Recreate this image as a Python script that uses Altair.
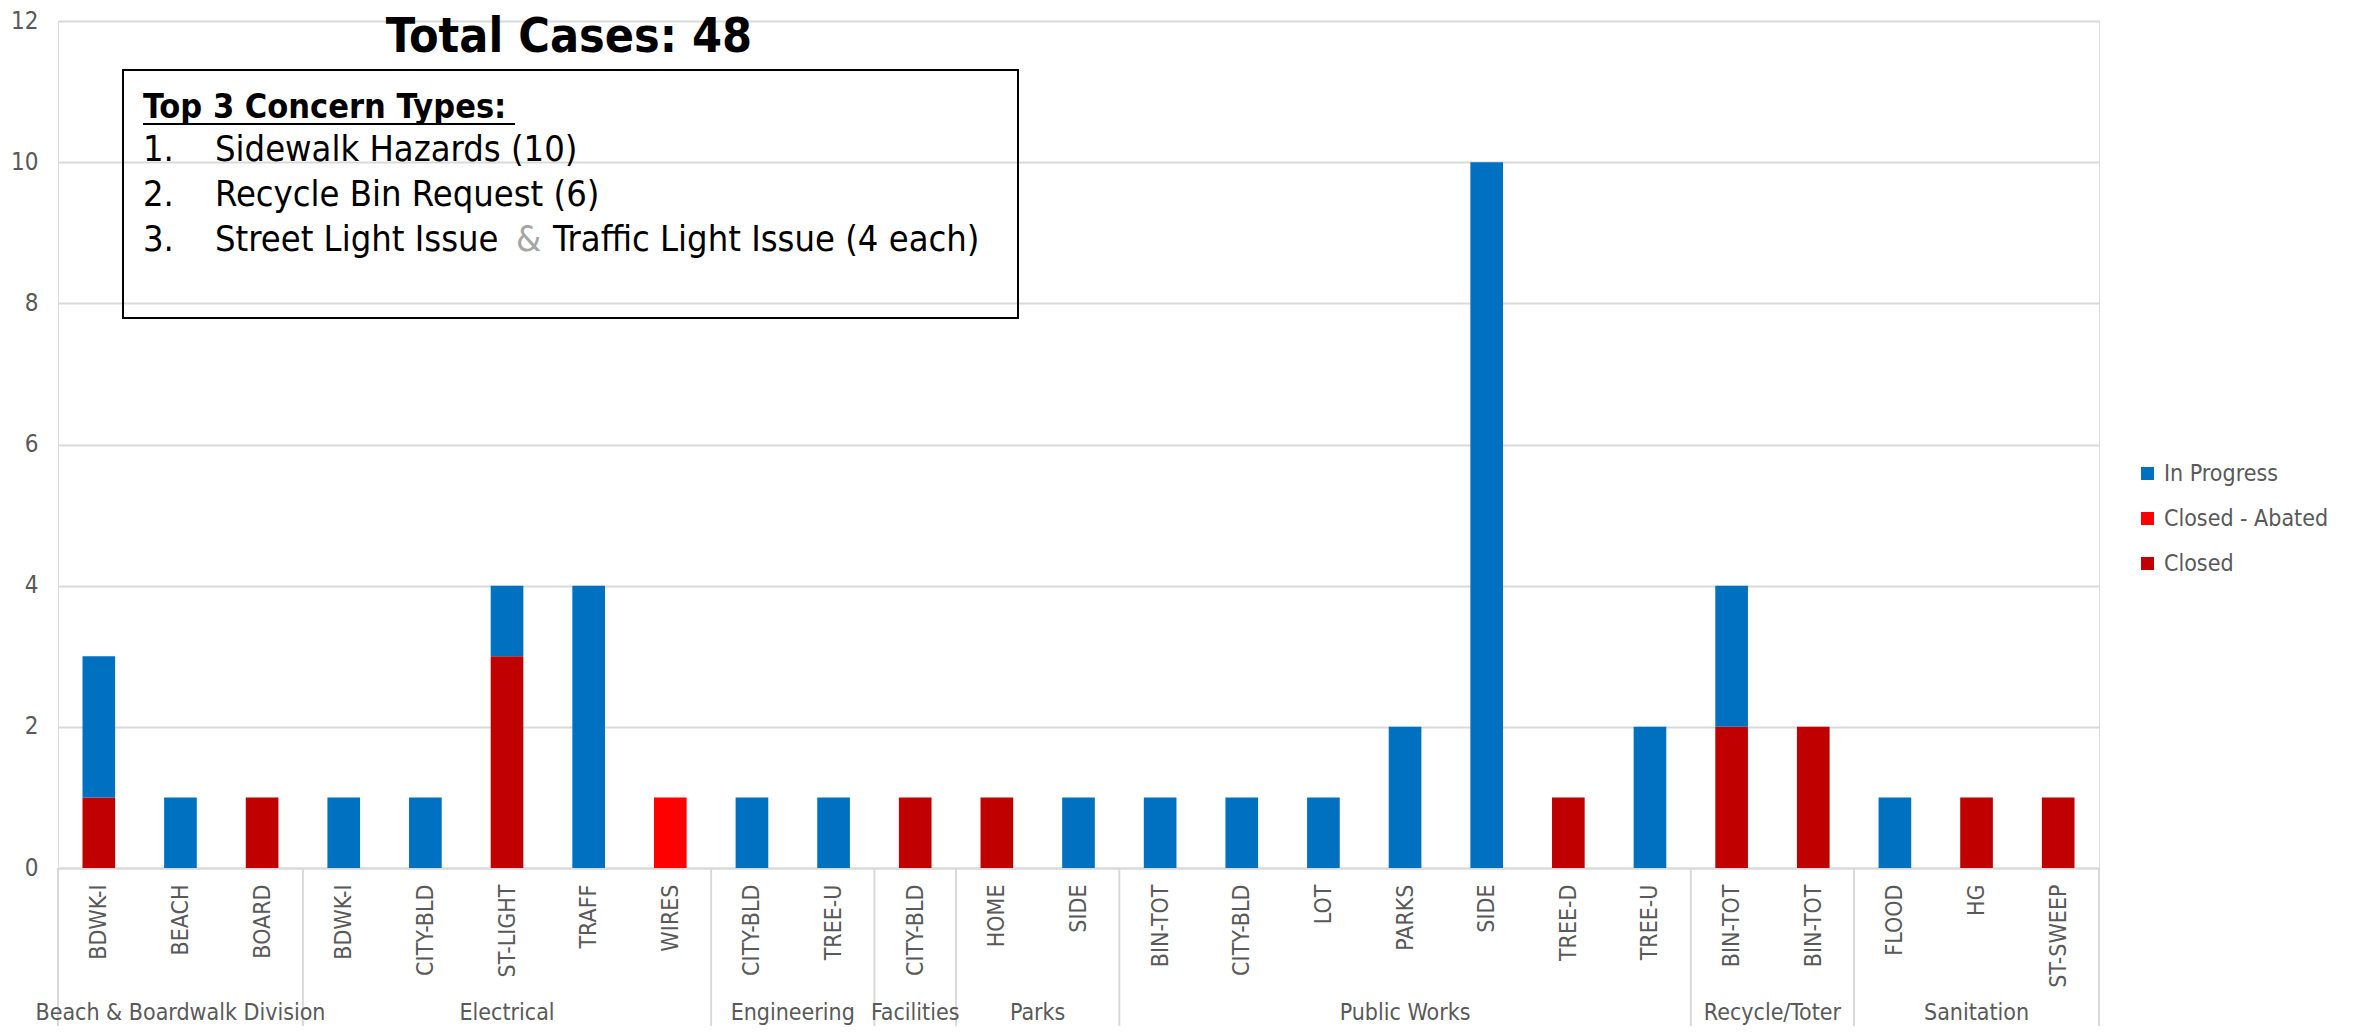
import json
import altair as alt
import pandas as pd

# ---------------- data ----------------
sub_labels = ["BDWK-I", "BEACH", "BOARD",
              "BDWK-I", "CITY-BLD", "ST-LIGHT", "TRAFF", "WIRES",
              "CITY-BLD", "TREE-U",
              "CITY-BLD",
              "HOME", "SIDE",
              "BIN-TOT", "CITY-BLD", "LOT", "PARKS", "SIDE", "TREE-D", "TREE-U",
              "BIN-TOT", "BIN-TOT",
              "FLOOD", "HG", "ST-SWEEP"]
group_names = ["Beach & Boardwalk Division", "Electrical", "Engineering", "Facilities",
               "Parks", "Public Works", "Recycle/Toter", "Sanitation"]
group_sizes = [3, 5, 2, 1, 2, 7, 2, 3]

in_progress   = [2, 1, 0, 1, 1, 1, 4, 0, 1, 1, 0, 0, 1, 1, 1, 1, 2, 10, 0, 2, 2, 0, 1, 0, 0]
closed_abated = [0, 0, 0, 0, 0, 0, 0, 1, 0, 0, 0, 0, 0, 0, 0, 0, 0, 0,  0, 0, 0, 0, 0, 0, 0]
closed        = [1, 0, 1, 0, 0, 3, 0, 0, 0, 0, 1, 1, 0, 0, 0, 0, 0, 0,  1, 0, 2, 2, 0, 1, 1]

status_names = ["In Progress", "Closed - Abated", "Closed"]
status_colors = ["#0070C0", "#FF0000", "#C00000"]
y_ticks = [0, 2, 4, 6, 8, 10, 12]

title_text = "Total Cases: 48"
box_header = "Top 3 Concern Types:"
box_nums = ["1.", "2.", "3."]
box_lines = ["Sidewalk Hazards (10)", "Recycle Bin Request (6)"]
line3_parts = ["Street Light Issue", "&", "Traffic Light Issue (4 each)"]

# ---------------- layout ----------------
FONT = "DejaVu Sans Condensed"
TOP = 13
W, H = 2041, 847
GRAY = "#595959"
GRID = "#D9D9D9"
DY = TOP - 8  # shift of annotation positions relative to the plot origin

rows = []
series = [("Closed", closed), ("Closed - Abated", closed_abated), ("In Progress", in_progress)]
for i in range(len(sub_labels)):
    for order, (name, vals) in enumerate(series):
        rows.append({"pos": i, "status": name, "order": order, "count": vals[i]})
df = pd.DataFrame(rows)

bounds = [0]
for s in group_sizes:
    bounds.append(bounds[-1] + s)
sep_df = pd.DataFrame({"b": bounds})
grp_df = pd.DataFrame({
    "name": group_names,
    "mid": [(bounds[k] + bounds[k + 1]) / 2 for k in range(len(group_names))],
})

label_expr = "[" + ",".join(json.dumps(s) for s in sub_labels) + "][floor(datum.value)]"
xscale = alt.Scale(domain=[0, len(sub_labels)], nice=False, zero=False)

bars = (
    alt.Chart(df)
    .transform_stack(stack="count", groupby=["pos"], sort=[alt.SortField("order")], as_=["y0", "y1"])
    .transform_filter("datum.count > 0")
    .transform_calculate(xa="datum.pos + 0.3", xb="datum.pos + 0.7")
    .mark_bar()
    .encode(
        x=alt.X("xa:Q", scale=xscale, title=None,
                axis=alt.Axis(values=[i + 0.5 for i in range(len(sub_labels))],
                              labelExpr=label_expr, labelAngle=-90, labelAlign="right",
                              labelBaseline="middle", labelFontSize=23, labelColor=GRAY,
                              labelFont=FONT, labelPadding=16, labelOverlap=False,
                              labelFlush=False, ticks=False, grid=False,
                              domainColor=GRID, domainWidth=2)),
        x2="xb:Q",
        y=alt.Y("y0:Q", scale=alt.Scale(domain=[0, 12], nice=False), title=None,
                axis=alt.Axis(values=y_ticks, grid=True, gridColor=GRID, gridWidth=2,
                              domain=False, ticks=False, labelFontSize=24,
                              labelColor=GRAY, labelFont=FONT, labelPadding=20)),
        y2="y1:Q",
        color=alt.Color("status:N",
                        scale=alt.Scale(domain=status_names, range=status_colors),
                        legend=alt.Legend(title=None, orient="none", legendX=2078, legendY=446 - DY,
                                          symbolType="square", symbolSize=169,
                                          symbolStrokeWidth=0, labelFontSize=23,
                                          labelColor=GRAY, labelFont=FONT, labelOffset=5,
                                          labelLimit=0, rowPadding=21, padding=0)),
    )
)

seps = alt.Chart(sep_df).mark_rule(color=GRID, strokeWidth=2).encode(
    x=alt.X("b:Q", scale=xscale, title=None),
    y=alt.value(H), y2=alt.value(H + 170),
)

grp_text = alt.Chart(grp_df).mark_text(fontSize=23, color=GRAY, font=FONT,
                                       baseline="alphabetic").encode(
    x=alt.X("mid:Q", scale=xscale, title=None),
    y=alt.value(1004 - DY),
    text="name:N",
)

one = pd.DataFrame({"k": [0]})
base = alt.Chart(one)

title = base.mark_text(fontSize=48, fontWeight="bold", font=FONT, color="black",
                       align="center", baseline="middle").encode(
    x=alt.value(511), y=alt.value(17), text=alt.value(title_text))

box = base.mark_rect(fillOpacity=0, stroke="black", strokeWidth=2).encode(
    x=alt.value(65), x2=alt.value(960), y=alt.value(54 - DY), y2=alt.value(302 - DY))

header = base.mark_text(fontSize=34, fontWeight="bold", font=FONT, color="black",
                        align="left", baseline="middle").encode(
    x=alt.value(85), y=alt.value(92 - DY), text=alt.value(box_header))
underline = base.mark_rule(color="black", strokeWidth=2).encode(
    x=alt.value(85), x2=alt.value(457), y=alt.value(108 - DY))

line_y = [134 - DY, 179 - DY, 224 - DY]
layers = [box, title, header, underline]
for k in range(3):
    layers.append(base.mark_text(fontSize=36, font=FONT, color="black", align="left",
                                 baseline="middle").encode(
        x=alt.value(85), y=alt.value(line_y[k]), text=alt.value(box_nums[k])))
for k in range(2):
    layers.append(base.mark_text(fontSize=36, font=FONT, color="black", align="left",
                                 baseline="middle").encode(
        x=alt.value(157), y=alt.value(line_y[k]), text=alt.value(box_lines[k])))
part_x = [157, 458, 495]
part_c = ["black", "#A6A6A6", "black"]
for k in range(3):
    layers.append(base.mark_text(fontSize=36, font=FONT, color=part_c[k], align="left",
                                 baseline="middle").encode(
        x=alt.value(part_x[k]), y=alt.value(line_y[2]), text=alt.value(line3_parts[k])))

chart = alt.layer(bars, seps, grp_text, *layers).properties(
    width=W, height=H,
    autosize=alt.AutoSizeParams(type="none"),
    padding={"left": 50, "top": TOP, "right": 240, "bottom": 158},
    background="white",
).configure_view(stroke=None).configure(font=FONT)

chart.save("out.html", embed_options={"renderer": "svg", "actions": False})
